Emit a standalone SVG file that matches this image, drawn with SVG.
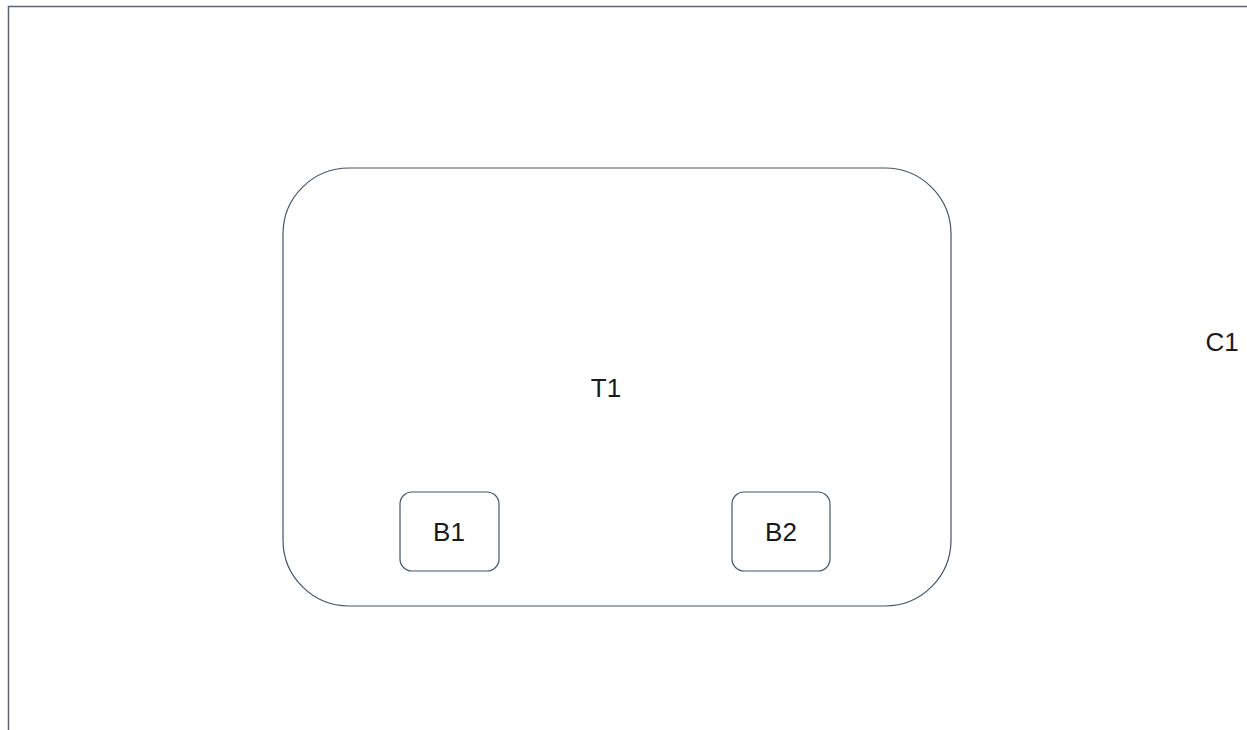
<svg xmlns="http://www.w3.org/2000/svg" width="1247" height="730" viewBox="0 0 1247 730">
<style>
.box{fill:#ffffff;stroke:#44546a;stroke-width:1.2}
.lbl{font-family:"Liberation Sans","Open Sans",sans-serif;font-size:26px;fill:#1a1a1a;text-anchor:middle}
</style>
<rect width="1247" height="730" fill="#ffffff"/>
<g id="C1">
<rect x="8.5" y="6.5" width="1260" height="740" fill="none" stroke="#5b6570" stroke-width="1.5"/>
<text class="lbl" x="1222" y="351">C1</text>
</g>
<g id="T1">
<rect class="box" x="283" y="168" width="668" height="438" rx="66" ry="66"/>
<text class="lbl" x="606" y="397">T1</text>
</g>
<g id="B1">
<rect class="box" x="400" y="492" width="99" height="79" rx="12" ry="12"/>
<text class="lbl" x="449" y="541">B1</text>
</g>
<g id="B2">
<rect class="box" x="732" y="492" width="98" height="79" rx="12" ry="12"/>
<text class="lbl" x="781" y="541">B2</text>
</g>
<g id="connectors"></g>
</svg>
